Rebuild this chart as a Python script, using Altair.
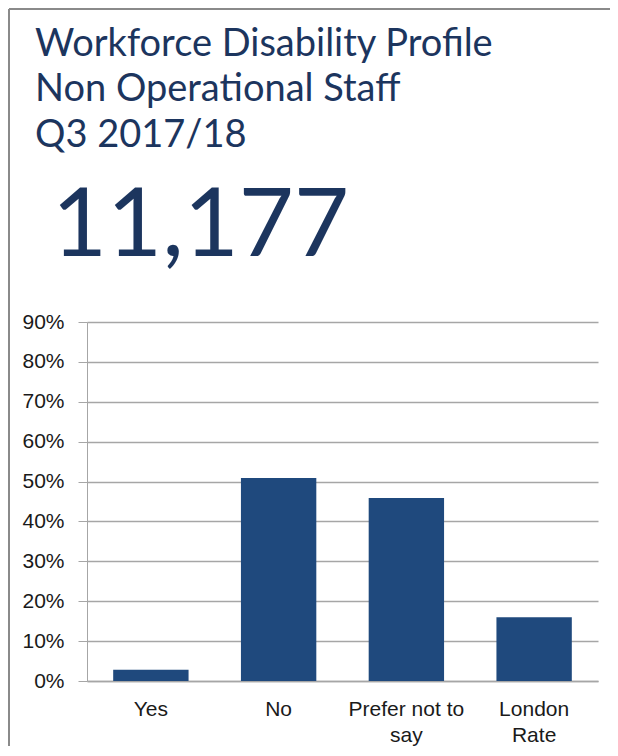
import altair as alt
import pandas as pd

categories = ["Yes", "No", "Prefer not to say", "London Rate"]
shares = [0.028, 0.509, 0.459, 0.160]
y_ticks = [0.0, 0.1, 0.2, 0.3, 0.4, 0.5, 0.6, 0.7, 0.8, 0.9]
title_lines = ["Workforce Disability Profile", "Non Operational Staff", "Q3 2017/18"]
headline = "11,177"

NAVY = "#1C355E"
BAR = "#1F497D"
GRID = "#a6a6a6"
FRAME = "#8a8a8a"

df = pd.DataFrame({"category": categories, "share": shares})
one = pd.DataFrame({"k": [0]})

label_expr = (
    "datum.label == 'Prefer not to say' ? ['Prefer not to', 'say'] : "
    "datum.label == 'London Rate' ? ['London', 'Rate'] : datum.label"
)

bars = alt.Chart(df).mark_bar(color=BAR).encode(
    x=alt.X(
        "category:N",
        sort=categories,
        title=None,
        scale=alt.Scale(paddingInner=0.41, paddingOuter=0.205),
        axis=alt.Axis(
            labelAngle=0,
            labelFont="Liberation Sans",
            labelFontSize=21,
            labelColor="#1a1a1a",
            labelLineHeight=26,
            labelPadding=17,
            labelExpr=label_expr,
            ticks=False,
            domainColor=GRID,
            domainWidth=1.5,
            grid=False,
        ),
    ),
    y=alt.Y(
        "share:Q",
        title=None,
        scale=alt.Scale(domain=[0, 0.9], nice=False),
        axis=alt.Axis(
            values=y_ticks,
            format=".0%",
            labelFont="Liberation Sans",
            labelFontSize=21,
            labelColor="#1a1a1a",
            labelPadding=14,
            tickSize=9,
            tickColor=GRID,
            domainColor=GRID,
            gridColor=GRID,
            gridWidth=1.5,
        ),
    ),
)

top_rule = alt.Chart(one).mark_rule(color=FRAME, strokeWidth=2).encode(
    x=alt.value(-78), x2=alt.value(523), y=alt.value(-313)
)
left_rule = alt.Chart(one).mark_rule(color=FRAME, strokeWidth=2).encode(
    x=alt.value(-78), y=alt.value(-313), y2=alt.value(430)
)

title_layers = []
for line, base in zip(title_lines, [-266, -221, -175]):
    title_layers.append(
        alt.Chart(one).mark_text(
            font="Lato", fontSize=38, color=NAVY, align="left", baseline="alphabetic"
        ).encode(x=alt.value(-52), y=alt.value(base), text=alt.value(line))
    )

big = alt.Chart(one).mark_text(
    font="Lato", fontSize=95, color=NAVY, align="left", baseline="alphabetic"
).encode(x=alt.value(-35), y=alt.value(-66), text=alt.value(headline))

chart = alt.layer(top_rule, left_rule, *title_layers, big, bars).properties(
    width=511,
    height=359,
    padding={"left": 79, "top": 314, "right": 12, "bottom": 65},
    autosize=alt.AutoSizeParams(type="none"),
).configure_view(stroke=None)

chart.save("out.html", embed_options={"renderer": "svg", "actions": False})
